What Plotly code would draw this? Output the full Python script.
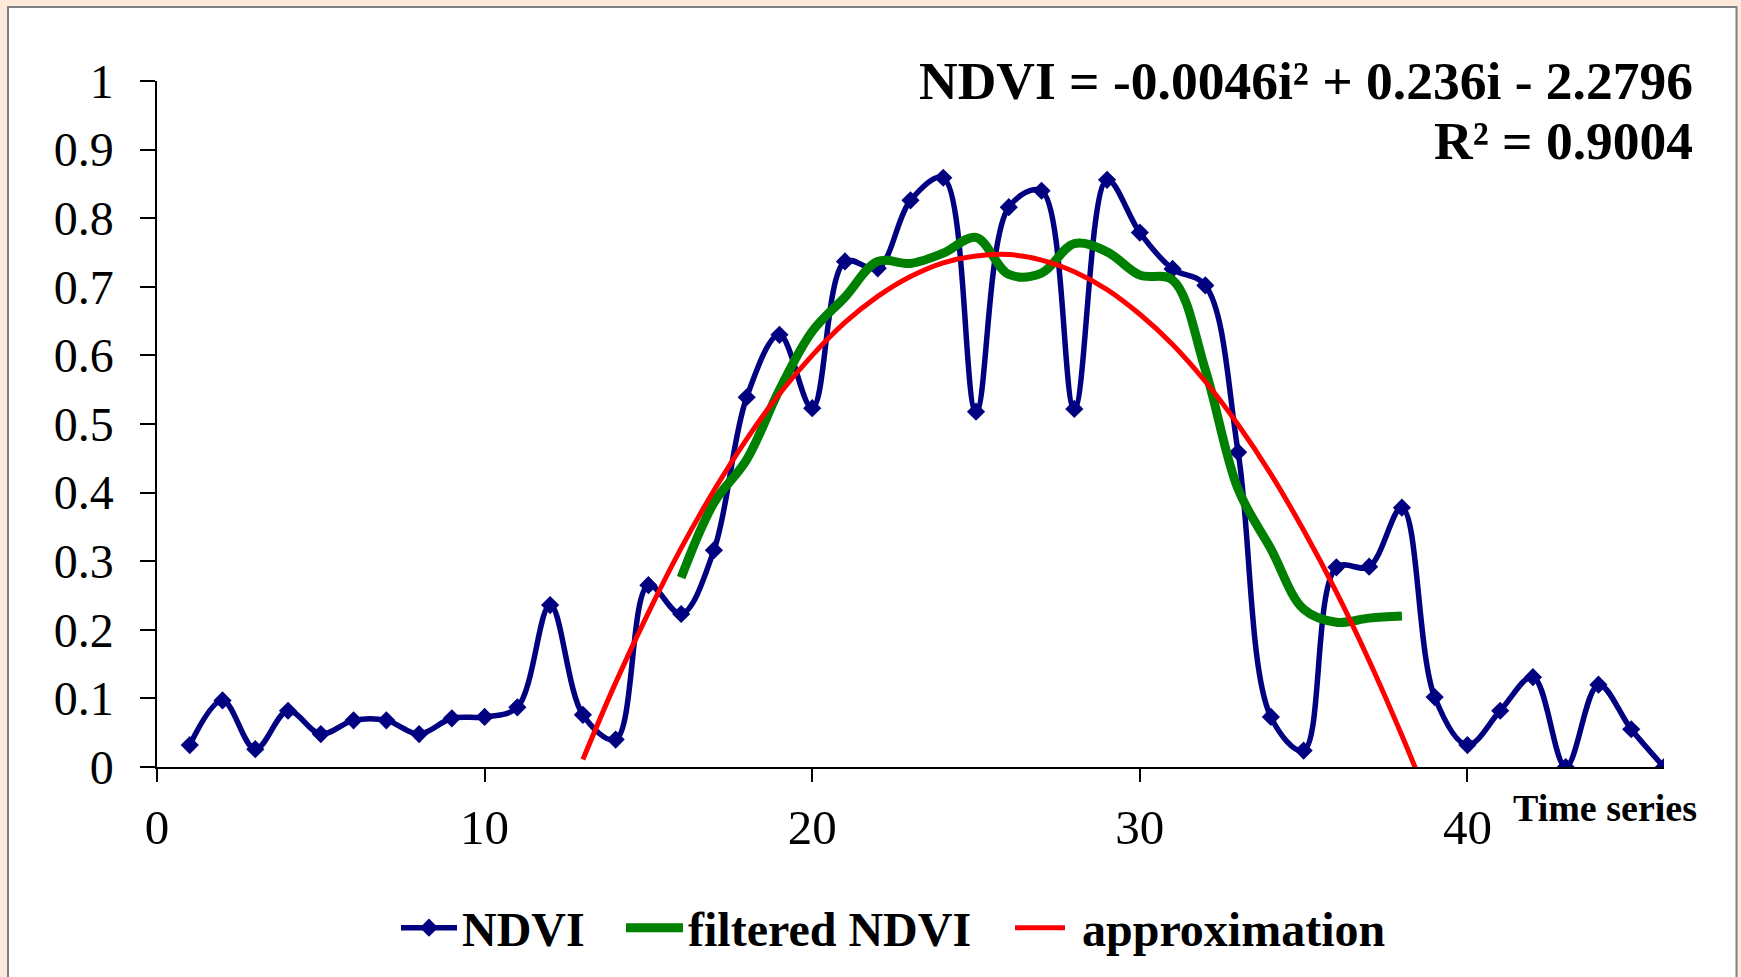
import plotly.graph_objects as go

# ---- data ----
ndvi_i = list(range(1, 47))
ndvi_vals = [0.032, 0.097, 0.026, 0.082, 0.048, 0.068, 0.068, 0.048, 0.071, 0.073,
             0.087, 0.236, 0.076, 0.040, 0.265, 0.223, 0.316, 0.539, 0.630, 0.523,
             0.737, 0.727, 0.826, 0.859, 0.518, 0.816, 0.840, 0.522, 0.856, 0.779,
             0.726, 0.702, 0.459, 0.073, 0.024, 0.291, 0.292, 0.378, 0.102, 0.032,
             0.082, 0.131, 0.000, 0.120, 0.055, 0.000]

filt_i = list(range(16, 39))
filt_vals = [0.276, 0.385, 0.448, 0.550, 0.635, 0.685, 0.737, 0.734, 0.749, 0.772,
             0.718, 0.720, 0.763, 0.751, 0.717, 0.710, 0.579, 0.405, 0.318, 0.230,
             0.211, 0.217, 0.220]

approx_i = [13, 14, 15, 16, 17, 18, 19, 20, 21, 22, 23, 24, 25, 26, 27, 28, 29, 30,
            31, 32, 33, 34, 35, 36, 37, 38, 38.5]
approx_vals = [0.011, 0.123, 0.225, 0.319, 0.403, 0.478, 0.544, 0.600, 0.648, 0.686,
               0.715, 0.735, 0.745, 0.747, 0.739, 0.722, 0.696, 0.660, 0.616, 0.562,
               0.499, 0.427, 0.345, 0.255, 0.155, 0.046, -0.012]

x_ticks = [0, 10, 20, 30, 40]
x_tick_labels = ["0", "10", "20", "30", "40"]
y_ticks = [0, 0.1, 0.2, 0.3, 0.4, 0.5, 0.6, 0.7, 0.8, 0.9, 1]
y_tick_labels = ["0", "0.1", "0.2", "0.3", "0.4", "0.5", "0.6", "0.7", "0.8", "0.9", "1"]

series_names = ["NDVI", "filtered NDVI", "\u00a0approximation"]
equation_text = "NDVI = -0.0046i² + 0.236i - 2.2796"
r2_text = "R² = 0.9004"
x_title = "Time series"

# ---- layout geometry (pixels) ----
W, H = 1741, 977
ML, MR, MT, MB = 157, 77, 81, 209
PW = W - ML - MR
PH = H - MT - MB


def px_x(p):
    return (p - ML) / PW


def px_y(p):
    return (H - MB - p) / PH


SERIF = "Liberation Serif, Times New Roman, serif"
LEG_FONT = dict(family=SERIF, size=48, color="black", weight="bold")

fig = go.Figure()

fig.add_trace(go.Scatter(
    x=ndvi_i, y=ndvi_vals, name=series_names[0], mode="lines+markers",
    line=dict(color="#000080", width=5.5, shape="spline", smoothing=1.0),
    marker=dict(symbol="diamond", size=14, color="#000080"),
    legend="legend",
))
fig.add_trace(go.Scatter(
    x=filt_i, y=filt_vals, name=series_names[1], mode="lines",
    line=dict(color="#008000", width=9, shape="spline", smoothing=1.0),
    legend="legend2",
))
fig.add_trace(go.Scatter(
    x=approx_i, y=approx_vals, name=series_names[2], mode="lines",
    line=dict(color="#FF0000", width=5, shape="spline", smoothing=1.0),
    legend="legend3",
))

# white chart area with grey frame on beige page
fig.add_shape(type="rect", xref="paper", yref="paper", layer="below",
              x0=px_x(8), x1=px_x(1736.5), y0=px_y(1000), y1=px_y(7),
              fillcolor="white", line=dict(color="#808080", width=2))

fig.add_annotation(text=equation_text, xref="paper", yref="paper",
                   x=px_x(1695), y=px_y(81), xanchor="right", yanchor="middle",
                   showarrow=False,
                   font=dict(family=SERIF, size=53.5, color="black", weight="bold"))
fig.add_annotation(text=r2_text, xref="paper", yref="paper",
                   x=px_x(1695), y=px_y(141), xanchor="right", yanchor="middle",
                   showarrow=False,
                   font=dict(family=SERIF, size=53.5, color="black", weight="bold"))
fig.add_annotation(text=x_title, xref="paper", yref="paper",
                   x=px_x(1699), y=px_y(809), xanchor="right", yanchor="middle",
                   showarrow=False,
                   font=dict(family=SERIF, size=38, color="black", weight="bold"))


def leg(x_px, iw):
    return dict(orientation="h", x=px_x(x_px), xanchor="left",
                y=px_y(928), yanchor="middle", font=LEG_FONT,
                bgcolor="rgba(0,0,0,0)", itemwidth=iw, tracegroupgap=0)


fig.update_layout(
    width=W, height=H,
    margin=dict(l=ML, r=MR, t=MT, b=MB, pad=0),
    paper_bgcolor="#FDEADB",
    plot_bgcolor="rgba(0,0,0,0)",
    font=dict(family=SERIF, color="black"),
    showlegend=True,
    legend=leg(396, 56),
    legend2=leg(621, 57),
    legend3=leg(1010, 50),
    xaxis=dict(range=[0, 46], tickvals=x_ticks, ticktext=x_tick_labels,
               showgrid=False, zeroline=False, showline=True, linecolor="black",
               linewidth=1.5, ticks="outside", ticklen=13, tickwidth=1.5,
               tickcolor="black", ticklabelstandoff=3,
               tickfont=dict(family=SERIF, size=49, color="black")),
    yaxis=dict(range=[0, 1], tickvals=y_ticks, ticktext=y_tick_labels,
               showgrid=False, zeroline=False, showline=True, linecolor="black",
               linewidth=1.5, ticks="outside", ticklen=15, tickwidth=1.5,
               tickcolor="black", ticklabelstandoff=17,
               tickfont=dict(family=SERIF, size=48, color="black")),
)

fig.write_html(
    "out.html",
    config={"displayModeBar": False},
    post_script="document.body.style.margin='0';document.body.style.overflow='hidden';",
)
